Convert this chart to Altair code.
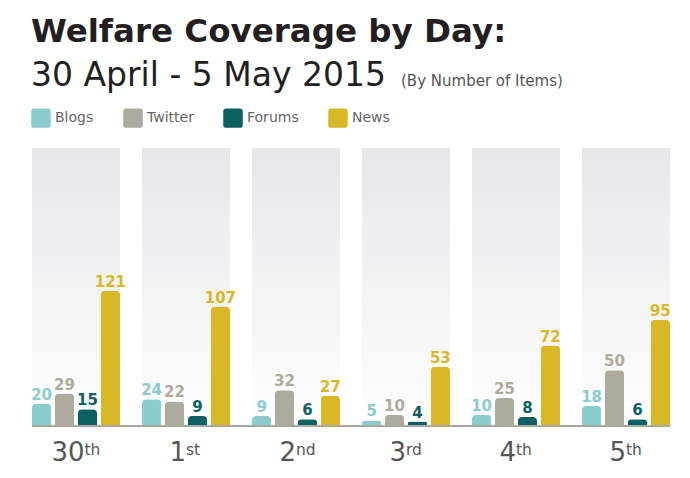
import altair as alt
import pandas as pd

# ---- data ----
days = ["30", "1", "2", "3", "4", "5"]
suffixes = ["th", "st", "nd", "rd", "th", "th"]
series = ["Blogs", "Twitter", "Forums", "News"]
blogs = [20, 24, 9, 5, 10, 18]
twitter = [29, 22, 32, 10, 25, 50]
forums = [15, 9, 6, 4, 8, 6]
news = [121, 107, 27, 53, 72, 95]
colors = ["#8bcdcc", "#adab9e", "#0b6161", "#d9b826"]
y_max = 249

values_by_series = {"Blogs": blogs, "Twitter": twitter, "Forums": forums, "News": news}
rows = []
for s in series:
    for d, sfx, v in zip(days, suffixes, values_by_series[s]):
        rows.append({"day": d + sfx, "series": s, "value": v})
df = pd.DataFrame(rows)

day_keys = [d + s for d, s in zip(days, suffixes)]
days_df = pd.DataFrame({"day": day_keys, "num": days, "sfx": suffixes,
                        "ndig": [len(d) for d in days], "top": [y_max] * len(days)})

W, H = 638, 278
font = "DejaVu Sans"

x_enc = alt.X("day:N", sort=day_keys, axis=None,
              scale=alt.Scale(paddingInner=0.2, paddingOuter=0))
y_scale = alt.Scale(domain=[0, y_max], nice=False)
xoff = alt.XOffset("series:N", sort=series,
                   scale=alt.Scale(paddingInner=0.16, paddingOuter=0))
color_scale = alt.Scale(domain=series, range=colors)

gradient = alt.Gradient(
    gradient="linear", x1=0, y1=0, x2=0, y2=1,
    stops=[alt.GradientStop(color="#e6e7e9", offset=0),
           alt.GradientStop(color="#ffffff", offset=1)],
)

panels = alt.Chart(days_df).mark_bar(color=gradient).encode(
    x=x_enc,
    y=alt.Y("top:Q", scale=y_scale, axis=None),
    y2=alt.datum(0),
)

rounded_sq = ("M -1 -0.7 Q -1 -1 -0.7 -1 L 0.7 -1 Q 1 -1 1 -0.7 L 1 0.7 "
              "Q 1 1 0.7 1 L -0.7 1 Q -1 1 -1 0.7 Z")

bars = alt.Chart(df).mark_bar(cornerRadiusTopLeft=4, cornerRadiusTopRight=4).encode(
    x=x_enc,
    xOffset=xoff,
    y=alt.Y("value:Q", scale=y_scale, axis=None),
    color=alt.Color("series:N", scale=color_scale, sort=series,
                    legend=alt.Legend(
                        title=None, orient="none", direction="horizontal",
                        legendX=-1, legendY=-40, padding=0,
                        symbolType=rounded_sq, symbolSize=380,
                        symbolStrokeWidth=0, symbolOpacity=1,
                        labelFont=font, labelFontSize=14, labelColor="#666666",
                        labelOffset=4, columnPadding=29,
                    )),
)

labels = alt.Chart(df).mark_text(font=font, fontWeight="bold", fontSize=15,
                                 baseline="alphabetic", dy=-4).encode(
    x=x_enc,
    xOffset=xoff,
    y=alt.Y("value:Q", scale=y_scale, axis=None),
    text="value:Q",
    color=alt.Color("series:N", scale=color_scale, legend=None),
)

baseline = alt.Chart(days_df).mark_rule(color="#a9a8a0", strokeWidth=1.5).encode(
    y=alt.datum(0),
)


def day_labels(ndig, dx):
    base = alt.Chart(days_df).transform_filter(alt.datum.ndig == ndig)
    num = base.mark_text(font=font, fontSize=26, color="#555555", align="right",
                         baseline="alphabetic", dx=dx).encode(
        x=x_enc, y=alt.value(H + 35), text="num:N")
    sfx = base.mark_text(font=font, fontSize=15.5, color="#555555", align="left",
                         baseline="alphabetic", dx=dx).encode(
        x=x_enc, y=alt.value(H + 29), text="sfx:N")
    return num + sfx


def title_text(txt, x, y, size, weight="normal", color="#231f20"):
    return alt.Chart(pd.DataFrame({"t": [txt]})).mark_text(
        font=font, fontSize=size, fontWeight=weight, color=color,
        align="left", baseline="alphabetic").encode(
        x=alt.value(x), y=alt.value(y), text="t:N")


chart = alt.layer(
    panels, bars, labels, baseline,
    day_labels(2, 8.5), day_labels(1, 0),
    title_text("Welfare Coverage by Day:", -1, -106, 32.5, "bold"),
    title_text("30 April - 5 May 2015", -1, -62, 33),
    title_text("(By Number of Items)", 369, -62, 15, color="#555555"),
).resolve_scale(color="shared").properties(
    width=W, height=H,
    autosize=alt.AutoSizeParams(type="none"),
    padding={"left": 24, "top": 140, "right": 10, "bottom": 44},
).configure_view(stroke=None)

chart.save("out.html", embed_options={"renderer": "svg", "actions": False})
